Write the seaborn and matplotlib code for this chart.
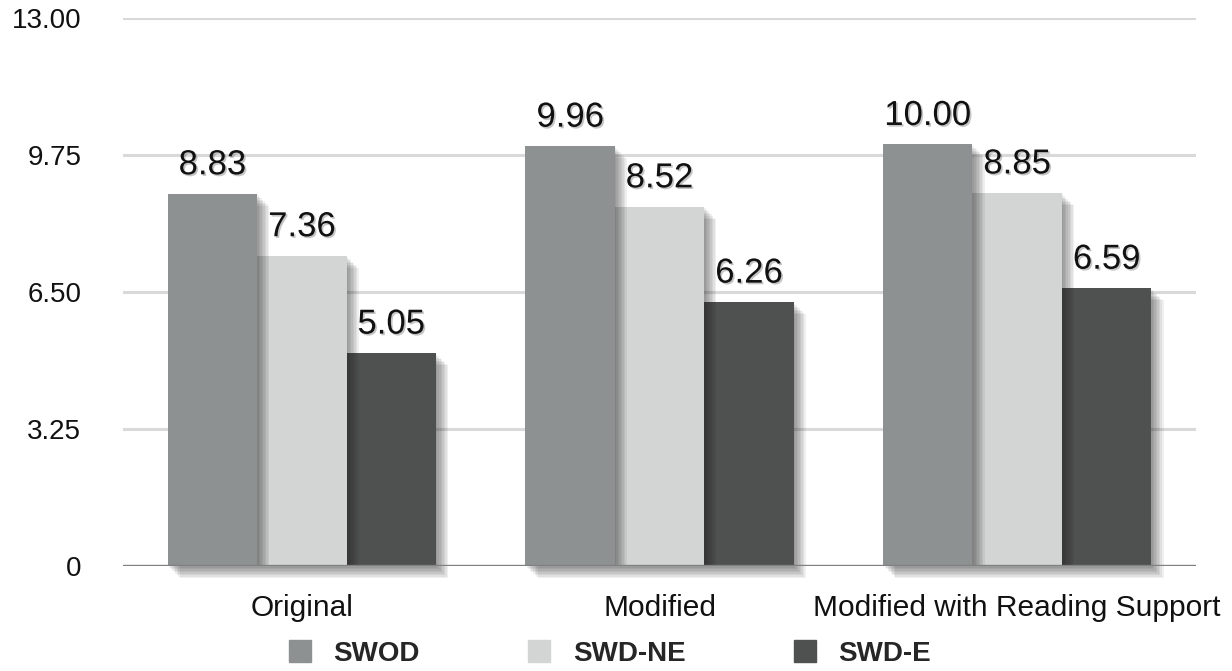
import matplotlib
matplotlib.use("Agg")
import matplotlib.pyplot as plt
import matplotlib.patheffects as pe
from matplotlib.lines import Line2D
import seaborn as sns
import pandas as pd

categories = ["Original", "Modified", "Modified with Reading Support"]
groups = ["SWOD", "SWD-NE", "SWD-E"]
swod = [8.83, 9.96, 10.00]
swd_ne = [7.36, 8.52, 8.85]
swd_e = [5.05, 6.26, 6.59]
yticks = [0, 3.25, 6.50, 9.75, 13.00]
ytick_labels = ["0", "3.25", "6.50", "9.75", "13.00"]
colors = ["#8e9192", "#d3d5d5", "#4f5150"]

rows = []
for g, vals in zip(groups, [swod, swd_ne, swd_e]):
    for c, v in zip(categories, vals):
        rows.append({"condition": c, "group": g, "score": v})
df = pd.DataFrame(rows)

sns.set_theme(style="white")
plt.rcParams["font.family"] = ["Liberation Sans", "DejaVu Sans"]

fig = plt.figure(figsize=(12.32, 6.71), dpi=100)
ax = fig.add_axes([123 / 1232, 1 - 566 / 671, (1196 - 123) / 1232, (566 - 18) / 671])

sns.barplot(data=df, x="condition", y="score", hue="group", order=categories,
            hue_order=groups, palette=colors, width=0.75, ax=ax, legend=False,
            saturation=1, linewidth=0)

shadow = [pe.SimplePatchShadow(offset=(k * 1.1, -k * 1.1), shadow_rgbFace="k", alpha=0.065)
          for k in range(8, 0, -1)] + [pe.Normal()]
text_shadow = [pe.SimplePatchShadow(offset=(1.2, -1.2), shadow_rgbFace="k", alpha=0.25),
               pe.Normal()]

for i, cont in enumerate(ax.containers):
    for bar in cont:
        bar.set_zorder(5 - i)
        bar.set_path_effects(shadow)
        bar.set_clip_on(False)
    labels = ax.bar_label(cont, fmt="%.2f", padding=9, fontsize=25, color="#111111")
    for t in labels:
        t.set_path_effects(text_shadow)
        t.set_zorder(10)

ax.set_ylim(0, 13)
ax.set_xlim(-0.5, 2.5)
ax.set_yticks(yticks)
ax.set_yticklabels(ytick_labels)
ax.yaxis.grid(True, color="#d9d9d9", linewidth=2.2)
ax.set_axisbelow(True)
ax.axhline(0, color="#808080", linewidth=2.4, zorder=8,
           path_effects=[pe.SimpleLineShadow(offset=(2, -2), shadow_color="k", alpha=0.12), pe.Normal()])
for s in ax.spines.values():
    s.set_visible(False)
ax.tick_params(axis="y", length=0, pad=30, labelsize=20, labelcolor="#111111")
ax.tick_params(axis="x", length=0, pad=20, labelsize=21.5, labelcolor="#111111")
ax.set_xlabel("")
ax.set_ylabel("")

handles = [Line2D([0], [0], marker="s", linestyle="none", markersize=16,
                  markerfacecolor=c, markeredgecolor=c) for c in colors]
leg = fig.legend(handles, groups, loc="center", bbox_to_anchor=(610 / 1232, 1 - 654 / 671),
                 ncol=3, frameon=False, handlelength=0.8, handletextpad=0.8,
                 columnspacing=3.9, prop={"weight": "bold", "size": 20})

fig.savefig("out.png", dpi=100)
